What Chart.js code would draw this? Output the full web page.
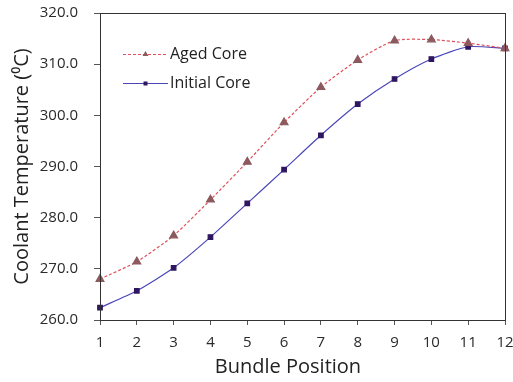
<!DOCTYPE html>
<html>
<head>
<meta charset="utf-8">
<script src="https://cdn.jsdelivr.net/npm/chart.js@4/dist/chart.umd.min.js"></script>
<style>
  html, body { margin: 0; padding: 0; background: #fff; }
  #c { display: block; }
</style>
</head>
<body>
<canvas id="c" width="513" height="382"></canvas>
<script>
// Bundle positions along the core
const positions = ["1", "2", "3", "4", "5", "6", "7", "8", "9", "10", "11", "12"];

// Coolant temperature (°C) per bundle position
const agedCore = [268.0, 271.4, 276.5, 283.5, 290.9, 298.6, 305.5, 310.8, 314.6, 314.8, 314.1, 313.1];
const initialCore = [262.4, 265.7, 270.2, 276.2, 282.8, 289.4, 296.1, 302.2, 307.1, 311.0, 313.4, 313.1];

const yTicks = [260, 270, 280, 290, 300, 310, 320];

const xTitle = 'Bundle Position';

const FONT = "'Open Sans', 'Liberation Sans', sans-serif";

// Frame around the plotting area, x-axis title and a legend drawn inside the plot
const framePlugin = {
  id: 'frame',
  afterDraw(chart) {
    const { ctx, chartArea: a } = chart;
    ctx.save();
    ctx.strokeStyle = '#333';
    ctx.lineWidth = 1;
    ctx.strokeRect(Math.round(a.left) + 0.5, Math.round(a.top) + 0.5,
                   Math.round(a.right - a.left), Math.round(a.bottom - a.top));

    // x-axis title, centred on the figure
    ctx.fillStyle = '#222';
    ctx.font = '20px ' + FONT;
    ctx.textAlign = 'center';
    ctx.textBaseline = 'middle';
    ctx.fillText(xTitle, 288, 367);

    // legend entries in dataset order
    ctx.textAlign = 'left';
    const x0 = a.left + 23, x1 = a.left + 68;
    const rows = [54, 83];
    chart.data.datasets.forEach((ds, i) => {
      const y = rows[i];
      ctx.strokeStyle = ds.borderColor;
      ctx.lineWidth = 1;
      ctx.setLineDash(ds.borderDash || []);
      ctx.beginPath();
      ctx.moveTo(x0, y + 0.5);
      ctx.lineTo(x1, y + 0.5);
      ctx.stroke();
      ctx.setLineDash([]);
      ctx.fillStyle = ds.pointBackgroundColor;
      const cx = (x0 + x1) / 2;
      if (ds.pointStyle === 'triangle') {
        ctx.beginPath();
        ctx.moveTo(cx, y - 3);
        ctx.lineTo(cx + 3, y + 2);
        ctx.lineTo(cx - 3, y + 2);
        ctx.closePath();
        ctx.fill();
      } else {
        ctx.fillRect(cx - 2, y - 1.5, 4, 4);
      }
      ctx.fillStyle = '#222';
      ctx.font = '16px ' + FONT;
      ctx.textBaseline = 'middle';
      ctx.fillText(ds.label, x1 + 2, y);
    });
    ctx.restore();
  }
};

new Chart(document.getElementById('c'), {
  type: 'line',
  data: {
    labels: positions,
    datasets: [
      {
        label: 'Aged Core',
        data: agedCore,
        borderColor: '#e0505a',
        borderWidth: 1.2,
        borderDash: [3, 2],
        pointStyle: 'triangle',
        pointRadius: 4.5,
        pointBackgroundColor: '#8c5a5e',
        pointBorderColor: '#8c5a5e',
        tension: 0.22,
        fill: false
      },
      {
        label: 'Initial Core',
        data: initialCore,
        borderColor: '#4a46b8',
        borderWidth: 1.2,
        pointStyle: 'rect',
        pointRadius: 3.2,
        pointBackgroundColor: '#2e1660',
        pointBorderColor: '#2e1660',
        tension: 0.22,
        fill: false
      }
    ]
  },
  options: {
    responsive: false,
    animation: false,
    layout: { autoPadding: false, padding: { left: 0, right: 8, top: 13, bottom: 0 } },
    plugins: {
      legend: { display: false },
      tooltip: { enabled: false }
    },
    scales: {
      x: {
        type: 'category',
        offset: false,
        afterFit(scale) {
          scale.height = 62;
          scale.paddingLeft = 0; scale.paddingRight = 0;
        },
        grid: { drawOnChartArea: false, drawTicks: true, tickLength: 5, color: '#555' },
        border: { color: '#333' },
        ticks: { color: '#2a2a2a', font: { family: FONT, size: 15 }, padding: 9, maxRotation: 0, autoSkip: false },
        title: { display: false }
      },
      y: {
        min: 260,
        max: 320,
        afterBuildTicks(scale) { scale.ticks = yTicks.map(v => ({ value: v })); },
        afterFit(scale) {
          scale.width = 100;
          scale.paddingTop = 0; scale.paddingBottom = 0;
        },
        grid: { drawOnChartArea: false, drawTicks: true, tickLength: 6, color: '#555' },
        border: { color: '#333' },
        ticks: { color: '#2a2a2a', font: { family: FONT, size: 15 }, padding: 16, callback: v => Number(v).toFixed(1) },
        title: { display: true, text: 'Coolant Temperature (⁰C)', color: '#222', font: { family: FONT, size: 20 }, padding: { top: 10, bottom: 0 } }
      }
    }
  },
  plugins: [framePlugin]
});
</script>
</body>
</html>
